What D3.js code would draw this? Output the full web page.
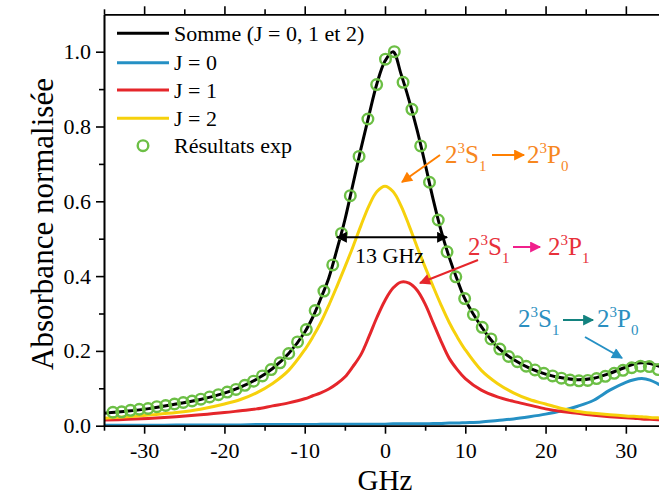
<!DOCTYPE html>
<html><head><meta charset="utf-8">
<script src="https://cdn.jsdelivr.net/npm/d3@7"></script>
<style>html,body{margin:0;padding:0;background:#fff;overflow:hidden}svg{display:block}</style>
</head><body>
<svg id="c" width="659" height="495"></svg>
<script>
// ---------- data ----------
const gridX = [-35,-32,-29,-26,-23,-20,-18,-16,-14,-12,-10,-9,-8,-7,-6,-5,-4,-3,-2,-1,0,1,2,3,4,5,6,7,8,9,10,12,14,16,18,20,22,24,26,28,30,31,32,33,34,35];
const sumJ = [0.033,0.039,0.047,0.058,0.070,0.087,0.103,0.124,0.153,0.193,0.250,0.290,0.340,0.395,0.470,0.550,0.645,0.740,0.830,0.915,0.975,1.000,0.940,0.870,0.790,0.700,0.605,0.520,0.450,0.390,0.337,0.265,0.210,0.177,0.154,0.138,0.128,0.123,0.127,0.140,0.157,0.165,0.168,0.166,0.160,0.152];
const j2 = [0.020,0.024,0.029,0.035,0.044,0.058,0.070,0.088,0.113,0.148,0.203,0.237,0.276,0.322,0.372,0.424,0.478,0.535,0.588,0.626,0.640,0.626,0.588,0.535,0.478,0.424,0.372,0.322,0.276,0.237,0.203,0.148,0.113,0.088,0.070,0.058,0.046,0.038,0.033,0.029,0.026,0.025,0.024,0.022,0.021,0.020];
const j1 = [0.015,0.017,0.020,0.024,0.029,0.035,0.040,0.045,0.053,0.061,0.072,0.080,0.088,0.098,0.112,0.130,0.158,0.190,0.238,0.290,0.335,0.368,0.384,0.381,0.362,0.325,0.275,0.225,0.180,0.150,0.126,0.095,0.077,0.065,0.055,0.045,0.038,0.033,0.028,0.024,0.021,0.020,0.018,0.017,0.016,0.015];
const j0 = [0.001,0.001,0.001,0.002,0.002,0.002,0.002,0.003,0.003,0.003,0.003,0.003,0.004,0.004,0.004,0.004,0.004,0.004,0.004,0.004,0.004,0.005,0.005,0.005,0.005,0.005,0.006,0.006,0.007,0.007,0.008,0.010,0.014,0.018,0.024,0.031,0.040,0.052,0.068,0.095,0.116,0.123,0.126,0.122,0.112,0.100];
const expX = [-33.89,-32.80,-31.70,-30.61,-29.51,-28.42,-27.32,-26.22,-25.13,-24.03,-22.94,-21.84,-20.75,-19.65,-18.56,-17.46,-16.37,-15.27,-14.18,-13.08,-11.99,-10.89,-9.80,-8.70,-7.61,-6.51,-5.42,-4.32,-3.23,-2.13,-1.04,0.06,1.16,2.25,3.35,4.44,5.54,6.63,7.73,8.82,9.92,11.01,12.11,13.20,14.30,15.40,16.49,17.59,18.68,19.78,20.87,21.97,23.06,24.16,25.25,26.35,27.44,28.54,29.64,30.73,31.83,32.92,34.02];
const expY = [0.036,0.037,0.041,0.044,0.046,0.051,0.054,0.058,0.062,0.066,0.071,0.077,0.083,0.090,0.097,0.108,0.119,0.133,0.150,0.168,0.193,0.224,0.257,0.308,0.360,0.430,0.514,0.615,0.720,0.820,0.912,0.980,1.000,0.918,0.846,0.748,0.651,0.550,0.465,0.398,0.340,0.297,0.263,0.232,0.205,0.185,0.171,0.159,0.149,0.140,0.133,0.127,0.122,0.120,0.121,0.126,0.132,0.140,0.148,0.155,0.159,0.158,0.150];
const xMajor = [-30,-20,-10,0,10,20,30];
const xMinor = [-35,-25,-15,-5,5,15,25,35];
const yMajor = [0,0.2,0.4,0.6,0.8,1.0];
const yMinor = [0.1,0.3,0.5,0.7,0.9];
const legendLabels = ["Somme (J = 0, 1 et 2)","J = 0","J = 1","J = 2","Résultats exp"];

// ---------- chart ----------
const svg = d3.select("#c");
const FONT = "'Liberation Serif','Times New Roman',serif";
const C = {sum:"#000000", j0:"#2590c4", j1:"#e5262b", j2:"#f6d10c", exp:"#6cbf45"};
const L = 104, R = 666, T = 14.3, B = 425.7;
const x = d3.scaleLinear().domain([-35,35]).range([L,R]);
const y = d3.scaleLinear().domain([0,1.1]).range([B,T]);

const defs = svg.append("defs");
defs.append("clipPath").attr("id","clip")
  .append("rect").attr("x",L).attr("y",T).attr("width",R-L).attr("height",B-T);
function marker(id,color){
  defs.append("marker").attr("id",id).attr("viewBox","0 0 10 10").attr("refX",9).attr("refY",5)
    .attr("markerWidth",13).attr("markerHeight",11).attr("markerUnits","userSpaceOnUse").attr("orient","auto-start-reverse")
    .append("path").attr("d","M0,0 L10,5 L0,10 Z").attr("fill",color);
}
marker("mOr","#ff7f00"); marker("mRed","#e5262b"); marker("mPk","#f0208c");
marker("mBl","#2590c4"); marker("mTl","#13827f"); marker("mBk","#000");

const line = d3.line().x(d=>x(d[0])).y(d=>y(d[1])).curve(d3.curveCatmullRom.alpha(0.5));
const g = svg.append("g").attr("clip-path","url(#clip)");
[[j0,C.j0],[j1,C.j1],[j2,C.j2],[sumJ,C.sum]].forEach(([arr,col])=>{
  g.append("path").datum(gridX.map((v,i)=>[v,arr[i]])).attr("d",line)
    .attr("fill","none").attr("stroke",col).attr("stroke-width",3);
});
g.selectAll("circle.exp").data(expX.map((v,i)=>[v,expY[i]])).join("circle").attr("class","exp")
  .attr("cx",d=>x(d[0])).attr("cy",d=>y(d[1])).attr("r",5.3)
  .attr("fill","none").attr("stroke",C.exp).attr("stroke-width",2.4);

// axes
function styleAxis(sel){
  sel.selectAll("path.domain").attr("stroke","#000").attr("stroke-width",1.6);
  sel.selectAll(".tick line").attr("stroke","#000").attr("stroke-width",1.6);
  sel.selectAll("text").attr("font-family",FONT).attr("font-size",22).attr("fill","#000");
}
const fmtX = d=> d<0 ? "-"+Math.abs(d) : String(d);
styleAxis(svg.append("g").attr("transform",`translate(0,${B})`)
  .call(d3.axisBottom(x).tickValues(xMajor).tickFormat(fmtX).tickSize(8).tickSizeOuter(0).tickPadding(9)));
styleAxis(svg.append("g").attr("transform",`translate(0,${B})`)
  .call(d3.axisBottom(x).tickValues(xMinor).tickFormat("").tickSize(5).tickSizeOuter(0)));
styleAxis(svg.append("g").attr("transform",`translate(0,${T})`)
  .call(d3.axisTop(x).tickValues(xMajor).tickFormat("").tickSize(8).tickSizeOuter(0)));
styleAxis(svg.append("g").attr("transform",`translate(0,${T})`)
  .call(d3.axisTop(x).tickValues(xMinor).tickFormat("").tickSize(5).tickSizeOuter(0)));
styleAxis(svg.append("g").attr("transform",`translate(${L},0)`)
  .call(d3.axisLeft(y).tickValues(yMajor).tickFormat(d3.format(".1f")).tickSize(8).tickSizeOuter(0).tickPadding(5)));
styleAxis(svg.append("g").attr("transform",`translate(${L},0)`)
  .call(d3.axisLeft(y).tickValues(yMinor).tickFormat("").tickSize(5).tickSizeOuter(0)));

// axis titles
svg.append("text").attr("x",x(0)).attr("y",490).attr("text-anchor","middle")
  .attr("font-family",FONT).attr("font-size",29).text("GHz");
svg.append("text").attr("transform","translate(53,224) rotate(-90)").attr("text-anchor","middle")
  .attr("font-family",FONT).attr("font-size",31).text("Absorbance normalisée");

// legend
const legRows = [33.3,62.7,90,118.3,145.7];
const legCols = [C.sum,C.j0,C.j1,C.j2,null];
legendLabels.forEach((lab,i)=>{
  const yy = legRows[i];
  if(legCols[i]) svg.append("line").attr("x1",117).attr("x2",169).attr("y1",yy).attr("y2",yy)
     .attr("stroke",legCols[i]).attr("stroke-width",3);
  else svg.append("circle").attr("cx",143).attr("cy",yy).attr("r",5.3).attr("fill","none")
     .attr("stroke",C.exp).attr("stroke-width",2.4);
  svg.append("text").attr("x",174).attr("y",yy+7.5).attr("font-family",FONT).attr("font-size",22).text(lab);
});

// annotation helper: 2^3 L_sub
function term(x0,base,letter,sub,color){
  const t = svg.append("text").attr("x",x0).attr("y",base).attr("font-family",FONT).attr("font-size",25).attr("fill",color);
  t.append("tspan").text("2");
  t.append("tspan").attr("font-size",15).attr("dy",-10).text("3");
  t.append("tspan").attr("dy",10).text(letter);
  t.append("tspan").attr("font-size",15).attr("dy",8).text(sub);
}
function arrow(x1,y1,x2,y2,color,mk,both){
  const l = svg.append("line").attr("x1",x1).attr("y1",y1).attr("x2",x2).attr("y2",y2)
    .attr("stroke",color).attr("stroke-width",2).attr("marker-end",`url(#${mk})`);
  if(both) l.attr("marker-start",`url(#${mk})`);
}
// orange
term(445,163,"S","1","#f7871f"); arrow(492,155,524,155,"#ff7f00","mOr"); term(527,163,"P","0","#f7871f");
arrow(440,155,402,182,"#ff7f00","mOr");
// red
term(468,255,"S","1","#e8303a"); arrow(513,247,540,247,"#f0208c","mPk"); term(548,255,"P","1","#e8303a");
arrow(478,260,420,283,"#e5262b","mRed");
// blue
term(518,327,"S","1","#2b8fc0"); arrow(563,320,593,320,"#13827f","mTl"); term(597,327,"P","0","#2b8fc0");
arrow(585,337,622,358,"#2590c4","mBl");
// 13 GHz
arrow(337,237.3,447,237.3,"#000","mBk",true);
svg.append("text").attr("x",355).attr("y",263).attr("font-family",FONT).attr("font-size",22).text("13 GHz");
</script>
</body></html>
